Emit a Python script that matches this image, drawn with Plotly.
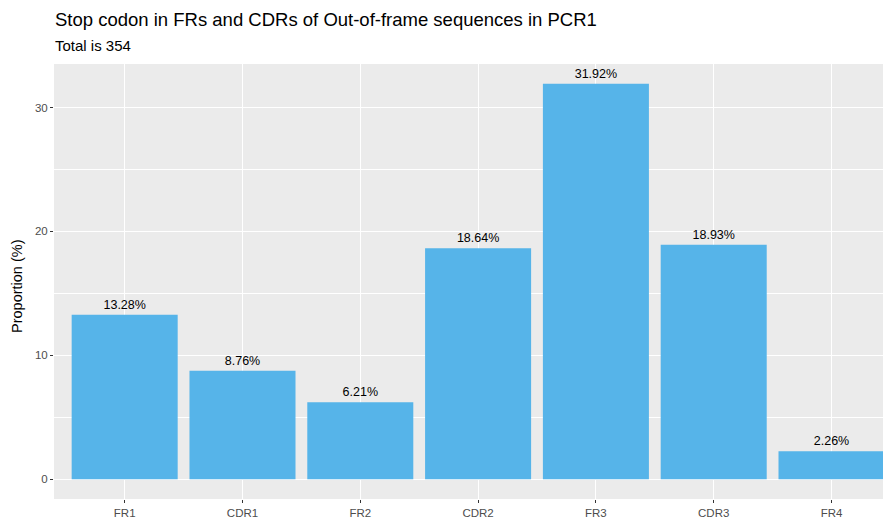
import plotly.graph_objects as go

categories = ["FR1", "CDR1", "FR2", "CDR2", "FR3", "CDR3", "FR4"]
values = [13.28, 8.76, 6.21, 18.64, 31.92, 18.93, 2.26]
labels = ["13.28%", "8.76%", "6.21%", "18.64%", "31.92%", "18.93%", "2.26%"]
y_ticks = [0, 10, 20, 30]

FONT = "Liberation Sans, Arial, Helvetica, sans-serif"
OFF = 8  # page body margin
W, H = 891 - OFF, 518 - OFF
L, R, T, B = 54 - OFF, 0, 64 - OFF, 19
PW, PH = W - L - R, H - T - B

def py(page_y):
    return (H - B - (page_y - OFF)) / PH

def px(page_x):
    return (page_x - OFF - L) / PW

fig = go.Figure(go.Bar(
    x=categories, y=values, text=labels,
    textposition="outside", cliponaxis=False,
    textfont=dict(family=FONT, size=12.5, color="black"),
    marker=dict(color="#56B4E9", line=dict(width=0)),
    width=0.9,
))

fig.update_layout(
    width=W, height=H,
    margin=dict(l=L, r=R, t=T, b=B, autoexpand=False),
    paper_bgcolor="white", plot_bgcolor="#EBEBEB",
    font=dict(family=FONT, color="black"),
    showlegend=False,
    annotations=[
        dict(text="Stop codon in FRs and CDRs of Out-of-frame sequences in PCR1",
             xref="paper", yref="paper", x=px(53), xanchor="left",
             y=py(20), yanchor="middle",
             showarrow=False, font=dict(family=FONT, size=18.5, color="black")),
        dict(text="Total is 354",
             xref="paper", yref="paper", x=px(53), xanchor="left",
             y=py(46), yanchor="middle",
             showarrow=False, font=dict(family=FONT, size=15, color="black")),
        dict(text="Proportion (%)", textangle=-90,
             xref="paper", yref="paper", x=px(17), xanchor="center",
             y=py(287), yanchor="middle",
             showarrow=False, font=dict(family=FONT, size=14.5, color="black")),
    ],
)
fig.update_xaxes(
    range=[-0.6, 6.505], showgrid=True, gridcolor="white", gridwidth=1.1,
    ticks="outside", ticklen=3, tickcolor="#333333", tickwidth=1,
    tickfont=dict(family=FONT, size=11.5, color="#4D4D4D"),
    zeroline=False, showline=False, automargin=False,
)
fig.update_yaxes(
    range=[-1.596, 33.516], tickvals=y_ticks,
    showgrid=True, gridcolor="white", gridwidth=1.1,
    minor=dict(showgrid=True, gridcolor="white", gridwidth=0.55, dtick=5, tick0=0),
    ticks="outside", ticklen=3, tickcolor="#333333", tickwidth=1,
    tickfont=dict(family=FONT, size=11.5, color="#4D4D4D"),
    zeroline=False, showline=False, automargin=False,
)

fig.write_html("out.html")
